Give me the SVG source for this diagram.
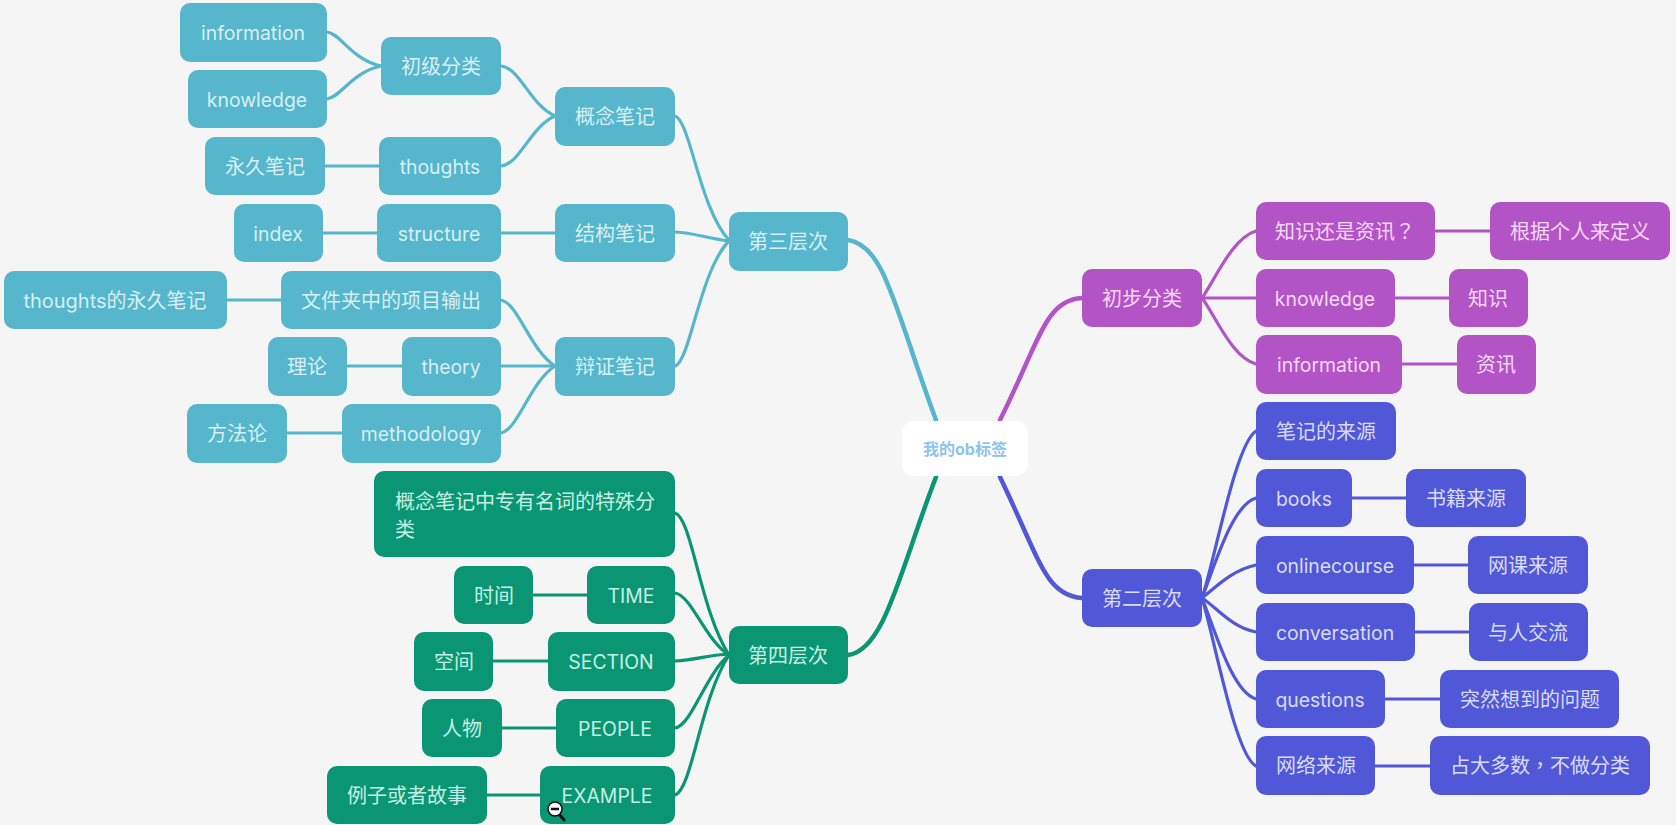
<svg xmlns="http://www.w3.org/2000/svg" width="1676" height="825" viewBox="0 0 1676 825">
<style>
text{font-family:"Inter","Noto Sans CJK SC",sans-serif;font-size:20px;text-anchor:middle;transform:translateY(1px)}
.la{font-size:19.4px}
.l2{text-anchor:start}
.tc{font-family:"Noto Sans CJK TC",sans-serif}
rect{stroke:none}
.t rect{fill:#56b6cc}.t text{fill:#d8eff4}
.p rect{fill:#b254c6}.p text{fill:#f6d8f9}
.b rect{fill:#5058d8}.b text{fill:#d8dcf8}
.g rect{fill:#0b9673}.g text{fill:#c6efe3}
path{fill:none;stroke-linecap:round}
.ct{stroke:#56b6cc}.cp{stroke:#b254c6}.cb{stroke:#5058d8}.cg{stroke:#0b9673}
.w1{stroke-width:4.5}.w2{stroke-width:3.2}
</style>
<rect width="1676" height="825" fill="#f6f5f6"/>
<g id="connectors">
<g class="ct w1"><path d="M848 240C885 245 895 310 936 420"/></g>
<g class="cg w1"><path d="M848 655C885 650 900 570 936 477"/></g>
<g class="cp w1"><path d="M1000 420C1040 340 1045 300 1082 298"/></g>
<g class="cb w1"><path d="M1000 477C1040 560 1045 595 1082 598"/></g>
<g class="ct w2">
<path d="M675 116C690 120 700 210 729 240"/><path d="M675 232C695 233 705 238 729 241"/><path d="M675 366C690 362 700 270 729 241"/>
<path d="M501 66C520 68 530 105 555 116"/><path d="M501 166C520 164 530 127 555 116"/><path d="M501 233H555"/>
<path d="M501 300C518 303 530 350 555 366"/><path d="M501 366H555"/><path d="M501 433C518 430 530 382 555 366"/>
<path d="M327 32C340 33 352 60 381 66"/><path d="M327 99C340 98 352 72 381 66"/><path d="M325 166H379"/><path d="M323 233H377"/><path d="M227 300H281"/><path d="M347 366H402"/><path d="M287 433H342"/>
</g>
<g class="cg w2">
<path d="M675 513C692 518 700 610 729 655"/><path d="M675 593C692 596 705 640 729 655"/><path d="M675 661C695 660 710 655 729 654"/><path d="M675 728C692 725 705 675 729 655"/><path d="M675 795C692 790 700 700 729 655"/>
<path d="M533 595H587"/><path d="M493 661H548"/><path d="M502 728H556"/><path d="M487 795H540"/>
</g>
<g class="cp w2">
<path d="M1202 298C1215 280 1232 238 1256 231"/><path d="M1202 298H1256"/><path d="M1202 298C1215 315 1232 358 1256 364"/>
<path d="M1435 231H1490"/><path d="M1395 298H1449"/><path d="M1402 364H1457"/>
</g>
<g class="cb w2">
<path d="M1202 598C1215 560 1235 445 1256 431"/><path d="M1202 598C1215 565 1232 505 1256 498"/><path d="M1202 598C1215 588 1232 570 1256 565"/><path d="M1202 598C1215 606 1232 628 1256 632"/><path d="M1202 598C1215 630 1232 692 1256 699"/><path d="M1202 598C1215 640 1235 755 1256 766"/>
<path d="M1352 498H1406"/><path d="M1414 565H1468"/><path d="M1415 632H1469"/><path d="M1385 699H1440"/><path d="M1375 766H1430"/>
</g>
</g>
<g id="root"><rect x="902" y="421" width="126" height="55" rx="12" fill="#fff"/><text x="965" y="454" style="font-size:16px;font-weight:700;fill:#8cc3f2">我的ob标签</text></g>
<g class="t">
<g id="n-third"><rect x="729" y="212" width="119" height="59" rx="10"/><text x="788" y="248">第三层次</text></g>
<g id="n-concept"><rect x="555" y="87" width="120" height="59" rx="10"/><text x="615" y="123">概念笔记</text></g>
<g id="n-structnote"><rect x="555" y="204" width="120" height="58" rx="10"/><text x="615" y="240">结构笔记</text></g>
<g id="n-dialectic"><rect x="555" y="337" width="120" height="59" rx="10"/><text x="615" y="373">辩证笔记</text></g>
<g id="n-basic"><rect x="381" y="37" width="120" height="58" rx="10"/><text x="441" y="73">初级分类</text></g>
<g id="n-thoughts"><rect x="379" y="137" width="122" height="58" rx="10"/><text class="la" x="440" y="173">thoughts</text></g>
<g id="n-structure"><rect x="377" y="204" width="124" height="58" rx="10"/><text class="la" x="439" y="240">structure</text></g>
<g id="n-output"><rect x="281" y="271" width="220" height="58" rx="10"/><text x="391" y="307">文件夹中的项目输出</text></g>
<g id="n-theory"><rect x="402" y="337" width="99" height="59" rx="10"/><text class="la" x="451" y="373">theory</text></g>
<g id="n-method"><rect x="342" y="404" width="159" height="59" rx="10"/><text class="la" x="421" y="440">methodology</text></g>
<g id="n-info"><rect x="180" y="3" width="147" height="59" rx="10"/><text class="la" x="253" y="39">information</text></g>
<g id="n-know"><rect x="188" y="70" width="139" height="58" rx="10"/><text class="la" x="257" y="106">knowledge</text></g>
<g id="n-perm"><rect x="205" y="137" width="120" height="58" rx="10"/><text x="265" y="173">永久笔记</text></g>
<g id="n-index"><rect x="234" y="204" width="89" height="58" rx="10"/><text class="la" x="278" y="240">index</text></g>
<g id="n-tperm"><rect x="4" y="271" width="223" height="58" rx="10"/><text x="115" y="307">thoughts的永久笔记</text></g>
<g id="n-lilun"><rect x="268" y="337" width="79" height="59" rx="10"/><text x="307" y="373">理论</text></g>
<g id="n-fangfa"><rect x="187" y="404" width="100" height="59" rx="10"/><text x="237" y="440">方法论</text></g>
</g>
<g class="g">
<g id="n-fourth"><rect x="729" y="626" width="119" height="58" rx="10"/><text x="788" y="662">第四层次</text></g>
<g id="n-special"><rect x="374" y="471" width="301" height="86" rx="10"/><text class="l2" x="395" y="508">概念笔记中专有名词的特殊分</text><text class="l2" x="395" y="536">类</text></g>
<g id="n-time"><rect x="587" y="566" width="88" height="58" rx="10"/><text class="la" x="631" y="602">TIME</text></g>
<g id="n-shijian"><rect x="454" y="566" width="79" height="58" rx="10"/><text x="494" y="602">时间</text></g>
<g id="n-section"><rect x="548" y="632" width="127" height="59" rx="10"/><text class="la" x="611" y="668">SECTION</text></g>
<g id="n-kongjian"><rect x="414" y="632" width="79" height="59" rx="10"/><text x="454" y="668">空间</text></g>
<g id="n-people"><rect x="556" y="699" width="119" height="58" rx="10"/><text class="la" x="615" y="735">PEOPLE</text></g>
<g id="n-renwu"><rect x="422" y="699" width="80" height="58" rx="10"/><text x="462" y="735">人物</text></g>
<g id="n-example"><rect x="540" y="766" width="135" height="58" rx="10"/><text class="la" x="607" y="802">EXAMPLE</text></g>
<g id="n-story"><rect x="327" y="766" width="160" height="58" rx="10"/><text x="407" y="802">例子或者故事</text></g>
</g>
<g class="p">
<g id="n-prelim"><rect x="1082" y="269" width="120" height="58" rx="10"/><text x="1142" y="305">初步分类</text></g>
<g id="n-q"><rect x="1256" y="202" width="179" height="58" rx="10"/><text x="1345" y="238">知识还是资讯<tspan class="tc">？</tspan></text></g>
<g id="n-def"><rect x="1490" y="202" width="180" height="58" rx="10"/><text x="1580" y="238">根据个人来定义</text></g>
<g id="n-know2"><rect x="1256" y="269" width="139" height="58" rx="10"/><text class="la" x="1325" y="305">knowledge</text></g>
<g id="n-zhishi"><rect x="1449" y="269" width="79" height="58" rx="10"/><text x="1488" y="305">知识</text></g>
<g id="n-info2"><rect x="1256" y="335" width="146" height="59" rx="10"/><text class="la" x="1329" y="371">information</text></g>
<g id="n-zixun"><rect x="1457" y="335" width="79" height="59" rx="10"/><text x="1496" y="371">资讯</text></g>
</g>
<g class="b">
<g id="n-second"><rect x="1082" y="569" width="120" height="58" rx="10"/><text x="1142" y="605">第二层次</text></g>
<g id="n-src"><rect x="1256" y="402" width="140" height="58" rx="10"/><text x="1326" y="438">笔记的来源</text></g>
<g id="n-books"><rect x="1256" y="469" width="96" height="58" rx="10"/><text class="la" x="1304" y="505">books</text></g>
<g id="n-booksrc"><rect x="1406" y="469" width="120" height="58" rx="10"/><text x="1466" y="505">书籍来源</text></g>
<g id="n-online"><rect x="1256" y="536" width="158" height="58" rx="10"/><text class="la" x="1335" y="572">onlinecourse</text></g>
<g id="n-onlinesrc"><rect x="1468" y="536" width="120" height="58" rx="10"/><text x="1528" y="572">网课来源</text></g>
<g id="n-conv"><rect x="1256" y="603" width="159" height="58" rx="10"/><text class="la" x="1335" y="639">conversation</text></g>
<g id="n-convsrc"><rect x="1469" y="603" width="119" height="58" rx="10"/><text x="1528" y="639">与人交流</text></g>
<g id="n-quest"><rect x="1256" y="670" width="129" height="58" rx="10"/><text class="la" x="1320" y="706">questions</text></g>
<g id="n-questsrc"><rect x="1440" y="670" width="179" height="58" rx="10"/><text x="1530" y="706">突然想到的问题</text></g>
<g id="n-web"><rect x="1256" y="736" width="119" height="59" rx="10"/><text x="1316" y="772">网络来源</text></g>
<g id="n-websrc"><rect x="1430" y="736" width="220" height="59" rx="10"/><text x="1540" y="772">占大多数<tspan class="tc">，</tspan>不做分类</text></g>
</g>
<g id="cursor"><line x1="558" y1="813" x2="565" y2="821" stroke="#111" stroke-width="3"/><circle cx="555" cy="809" r="7" fill="#fff" stroke="#111" stroke-width="1.5"/><line x1="551" y1="809" x2="559" y2="809" stroke="#111" stroke-width="2.5"/></g>
</svg>
